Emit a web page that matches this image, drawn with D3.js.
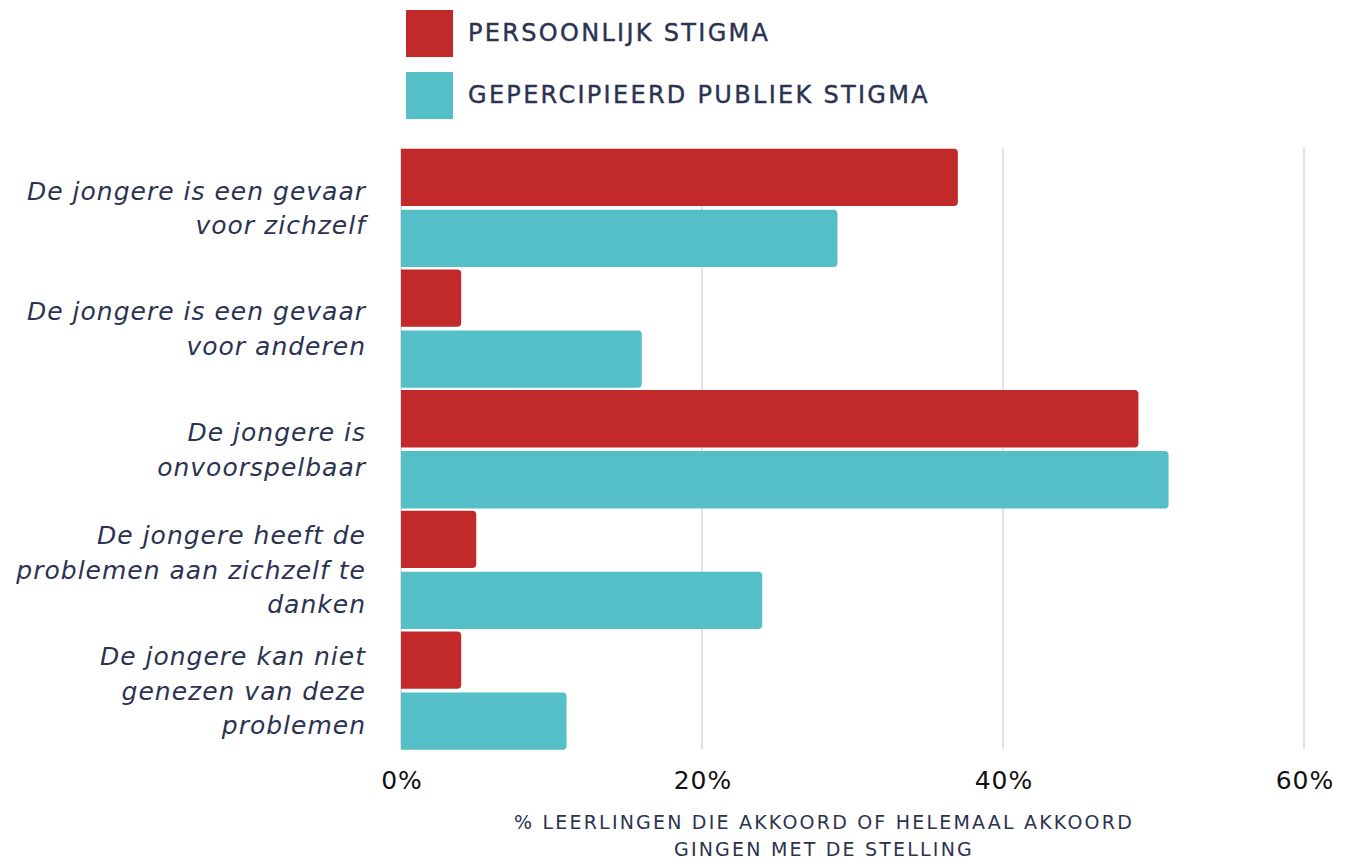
<!DOCTYPE html>
<html><head><meta charset="utf-8">
<script src="https://cdn.jsdelivr.net/npm/d3@7"></script>
<style>body{margin:0;background:#fff}svg{display:block}</style>
</head><body>
<svg id="c" width="1345" height="859"></svg>
<script>
const categories = [
  ["De jongere is een gevaar", "voor zichzelf"],
  ["De jongere is een gevaar", "voor anderen"],
  ["De jongere is", "onvoorspelbaar"],
  ["De jongere heeft de", "problemen aan zichzelf te", "danken"],
  ["De jongere kan niet", "genezen van deze", "problemen"]
];
const seriesNames = ["PERSOONLIJK STIGMA", "GEPERCIPIEERD PUBLIEK STIGMA"];
const persoonlijk = [37, 4, 49, 5, 4];
const publiek = [29, 16, 51, 24, 11];
const tickValues = [0, 20, 40, 60];
const axisTitle = ["% LEERLINGEN DIE AKKOORD OF HELEMAAL AKKOORD", "GINGEN MET DE STELLING"];
const colors = ["#c1292a", "#54bfc7"];
const textColor = "#2b3350";
const font = "'DejaVu Sans', sans-serif";

const svg = d3.select("#c");
const x = d3.scaleLinear().domain([0, 60]).range([401, 1304]);
const y = d3.scaleBand().domain(d3.range(categories.length)).range([147.5, 751]);
const yi = d3.scaleBand().domain([0, 1]).range([0, y.bandwidth()]).paddingInner(0.06).paddingOuter(0.02);

// gridlines
svg.append("g").selectAll("line").data(tickValues).join("line")
  .attr("x1", d => x(d)).attr("x2", d => x(d))
  .attr("y1", 148).attr("y2", 749)
  .attr("stroke", "#d0d0d0").attr("stroke-width", 1.2);

function barPath(x0, x1, y0, h, r) {
  r = Math.min(r, (x1 - x0) / 2, h / 2);
  return `M${x0},${y0}H${x1 - r}Q${x1},${y0} ${x1},${y0 + r}V${y0 + h - r}Q${x1},${y0 + h} ${x1 - r},${y0 + h}H${x0}Z`;
}

const data = [];
categories.forEach((c, i) => {
  data.push({i, s: 0, v: persoonlijk[i]});
  data.push({i, s: 1, v: publiek[i]});
});
svg.append("g").selectAll("path").data(data).join("path")
  .attr("d", d => barPath(x(0), x(d.v), y(d.i) + yi(d.s), yi.bandwidth(), 4))
  .attr("fill", d => colors[d.s]);

// category labels
const lh = 34.5;
const lab = svg.append("g").attr("font-family", font).attr("font-style", "italic")
  .attr("font-size", 25).attr("letter-spacing", 1).attr("fill", textColor).attr("text-anchor", "end");
categories.forEach((lines, i) => {
  const cy = y(i) + y.bandwidth() / 2;
  lines.forEach((t, j) => {
    lab.append("text").attr("x", 366)
      .attr("y", cy + (j - (lines.length - 1) / 2) * lh + 9)
      .text(t);
  });
});

// x axis
const ax = svg.append("g").attr("transform", "translate(0,780)")
  .call(d3.axisBottom(x).tickValues(tickValues).tickSize(0).tickFormat(d => d + "%"));
ax.select(".domain").remove();
ax.selectAll("text").attr("font-family", font).attr("font-size", 25).attr("letter-spacing", 1)
  .attr("fill", "#111").attr("dy", "0.35em").attr("y", 0).attr("dx", 0.5);

// axis title
const at = svg.append("g").attr("font-family", font).attr("font-size", 19).attr("letter-spacing", 2.2)
  .attr("fill", textColor).attr("text-anchor", "middle");
axisTitle.forEach((t, j) => at.append("text").attr("x", 824).attr("y", 829 + j * 27).text(t));

// legend
const lg = svg.append("g");
seriesNames.forEach((n, k) => {
  lg.append("rect").attr("x", 406).attr("y", 10 + k * 62).attr("width", 47).attr("height", 47).attr("fill", colors[k]);
  lg.append("text").attr("x", 468).attr("y", 41 + k * 62).attr("font-family", font).attr("font-size", 24)
    .attr("letter-spacing", 2.3).attr("fill", textColor)
    .attr("stroke", textColor).attr("stroke-width", 0.4).text(n);
});
</script>
</body></html>
